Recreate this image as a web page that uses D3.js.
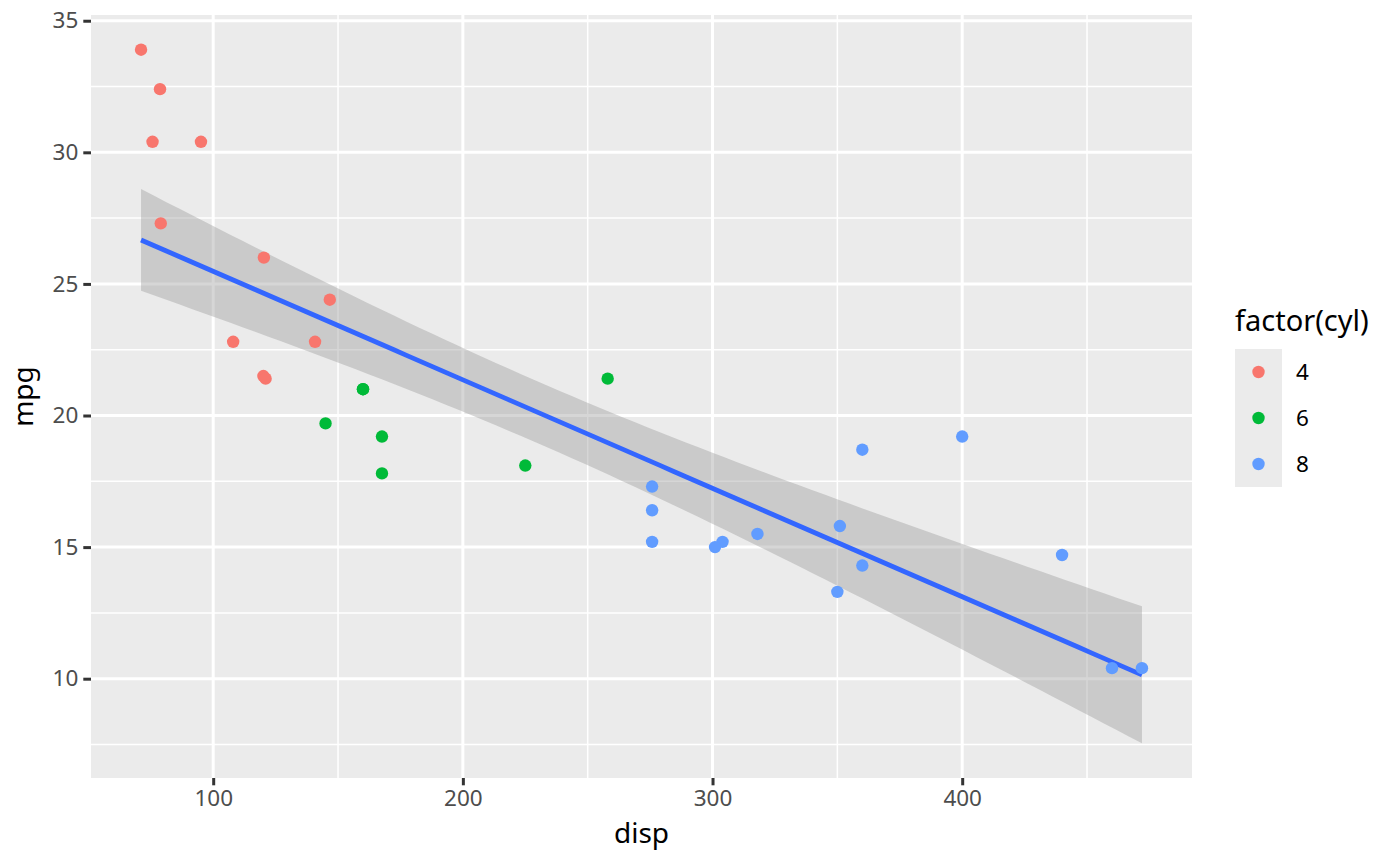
<!DOCTYPE html>
<html>
<head>
<meta charset="utf-8">
<script src="https://cdn.jsdelivr.net/npm/d3@7"></script>
<style>
  body { margin: 0; background: #fff; }
  svg { display: block; font-family: "Noto Sans", "Open Sans", sans-serif; }
</style>
</head>
<body>
<svg id="chart" width="1400" height="866"></svg>
<script>
// mtcars: engine displacement vs miles per gallon, coloured by cylinders
var disp = [160, 160, 108, 258, 360, 225, 360, 146.7, 140.8, 167.6, 167.6, 275.8, 275.8, 275.8,
            472, 460, 440, 78.7, 75.7, 71.1, 120.1, 318, 304, 350, 400, 79, 120.3, 95.1, 351, 145, 301, 121];
var mpg  = [21.0, 21.0, 22.8, 21.4, 18.7, 18.1, 14.3, 24.4, 22.8, 19.2, 17.8, 16.4, 17.3, 15.2,
            10.4, 10.4, 14.7, 32.4, 30.4, 33.9, 21.5, 15.5, 15.2, 13.3, 19.2, 27.3, 26.0, 30.4, 15.8, 19.7, 15.0, 21.4];
var cyl  = [6, 6, 4, 6, 8, 6, 8, 4, 4, 6, 6, 8, 8, 8, 8, 8, 8, 4, 4, 4, 4, 8, 8, 8, 8, 4, 4, 4, 8, 6, 8, 4];

var cylLevels = ["4", "6", "8"];
var cylColors = ["#F8766D", "#00BA38", "#619CFF"];
var xTicks = [100, 200, 300, 400];
var yTicks = [10, 15, 20, 25, 30, 35];

var points = disp.map(function(d, i) { return { x: d, y: mpg[i], c: String(cyl[i]) }; });

// lm(mpg ~ disp) with 95% confidence band, like geom_smooth(method = "lm")
var n = points.length;
var xbar = d3.mean(disp), ybar = d3.mean(mpg);
var sxx = d3.sum(disp, function(d) { return (d - xbar) * (d - xbar); });
var sxy = d3.sum(points, function(p) { return (p.x - xbar) * (p.y - ybar); });
var slope = sxy / sxx, intercept = ybar - slope * xbar;
var rss = d3.sum(points, function(p) { var r = p.y - (intercept + slope * p.x); return r * r; });
var sigma = Math.sqrt(rss / (n - 2));
var tcrit = 2.042272; // qt(0.975, 30)

var xMin = d3.min(disp), xMax = d3.max(disp);
var fit = d3.range(80).map(function(i) {
  var x0 = xMin + (xMax - xMin) * i / 79;
  var yhat = intercept + slope * x0;
  var se = sigma * Math.sqrt(1 / n + (x0 - xbar) * (x0 - xbar) / sxx);
  return { x: x0, y: yhat, lo: yhat - tcrit * se, hi: yhat + tcrit * se };
});

var panel = { left: 91, right: 1192, top: 15, bottom: 778 };

function expand(lo, hi) { var e = (hi - lo) * 0.05; return [lo - e, hi + e]; }

var yLo = Math.min(d3.min(mpg), d3.min(fit, function(d) { return d.lo; }));
var yHi = Math.max(d3.max(mpg), d3.max(fit, function(d) { return d.hi; }));

var x = d3.scaleLinear().domain(expand(xMin, xMax)).range([panel.left, panel.right]);
var y = d3.scaleLinear().domain(expand(yLo, yHi)).range([panel.bottom, panel.top]);
var color = d3.scaleOrdinal().domain(cylLevels).range(cylColors);

var svg = d3.select("#chart");

svg.append("rect")
  .attr("x", panel.left).attr("y", panel.top)
  .attr("width", panel.right - panel.left).attr("height", panel.bottom - panel.top)
  .attr("fill", "#EBEBEB");

// minor grid at midpoints between the major breaks
function minors(ticks, dom) {
  var step = ticks[1] - ticks[0], out = [];
  for (var v = ticks[0] - step / 2; v <= ticks[ticks.length - 1] + step; v += step) {
    if (v >= dom[0] && v <= dom[1]) out.push(v);
  }
  return out;
}

var grid = svg.append("g");
grid.selectAll(".xminor").data(minors(xTicks, x.domain())).enter().append("line")
  .attr("x1", x).attr("x2", x).attr("y1", panel.top).attr("y2", panel.bottom)
  .attr("stroke", "#fff").attr("stroke-width", 1.5);
grid.selectAll(".yminor").data(minors(yTicks, y.domain())).enter().append("line")
  .attr("y1", y).attr("y2", y).attr("x1", panel.left).attr("x2", panel.right)
  .attr("stroke", "#fff").attr("stroke-width", 1.5);
grid.selectAll(".xmajor").data(xTicks).enter().append("line")
  .attr("x1", x).attr("x2", x).attr("y1", panel.top).attr("y2", panel.bottom)
  .attr("stroke", "#fff").attr("stroke-width", 3);
grid.selectAll(".ymajor").data(yTicks).enter().append("line")
  .attr("y1", y).attr("y2", y).attr("x1", panel.left).attr("x2", panel.right)
  .attr("stroke", "#fff").attr("stroke-width", 3);

// smoother
svg.append("path")
  .datum(fit)
  .attr("d", d3.area().x(function(d) { return x(d.x); })
    .y0(function(d) { return y(d.lo); }).y1(function(d) { return y(d.hi); }))
  .attr("fill", "#999999").attr("fill-opacity", 0.4);

svg.append("path")
  .datum(fit)
  .attr("d", d3.line().x(function(d) { return x(d.x); }).y(function(d) { return y(d.y); }))
  .attr("fill", "none").attr("stroke", "#3366FF").attr("stroke-width", 4.8);

svg.append("g").selectAll("circle").data(points).enter().append("circle")
  .attr("cx", function(d) { return x(d.x); })
  .attr("cy", function(d) { return y(d.y); })
  .attr("r", 6.2)
  .attr("fill", function(d) { return color(d.c); });

// axes
var xAxis = svg.append("g")
  .attr("transform", "translate(0," + panel.bottom + ")")
  .call(d3.axisBottom(x).tickValues(xTicks).tickSize(7.3).tickPadding(5));
var yAxis = svg.append("g")
  .attr("transform", "translate(" + panel.left + ",0)")
  .call(d3.axisLeft(y).tickValues(yTicks).tickSize(7.7).tickPadding(5));

[xAxis, yAxis].forEach(function(a) {
  a.select(".domain").remove();
  a.selectAll(".tick line").attr("stroke", "#333333").attr("stroke-width", 3);
  a.selectAll(".tick text").attr("fill", "#4D4D4D").style("font-size", "22.5px")
    .style("font-family", "Noto Sans, Open Sans, sans-serif");
});

svg.append("text")
  .attr("x", (panel.left + panel.right) / 2).attr("y", 843)
  .attr("text-anchor", "middle").attr("font-size", 28).attr("fill", "#000")
  .text("disp");

svg.append("text")
  .attr("transform", "translate(33," + (panel.top + panel.bottom) / 2 + ") rotate(-90)")
  .attr("text-anchor", "middle").attr("font-size", 28).attr("fill", "#000")
  .text("mpg");

// legend
var legend = svg.append("g");
legend.append("text")
  .attr("x", 1235).attr("y", 331)
  .attr("font-size", 29).attr("fill", "#000")
  .text("factor(cyl)");

var keyH = 46, keyTop = 349;
var keys = legend.selectAll(".key").data(cylLevels).enter().append("g")
  .attr("transform", function(d, i) { return "translate(1235," + (keyTop + i * keyH) + ")"; });
keys.append("rect").attr("width", 47).attr("height", keyH).attr("fill", "#EBEBEB");
keys.append("circle").attr("cx", 23.5).attr("cy", keyH / 2).attr("r", 6.2)
  .attr("fill", function(d) { return color(d); });
keys.append("text").attr("x", 61).attr("y", keyH / 2).attr("dy", "0.35em")
  .attr("font-size", 22.5).attr("fill", "#000")
  .text(function(d) { return d; });
</script>
</body>
</html>
